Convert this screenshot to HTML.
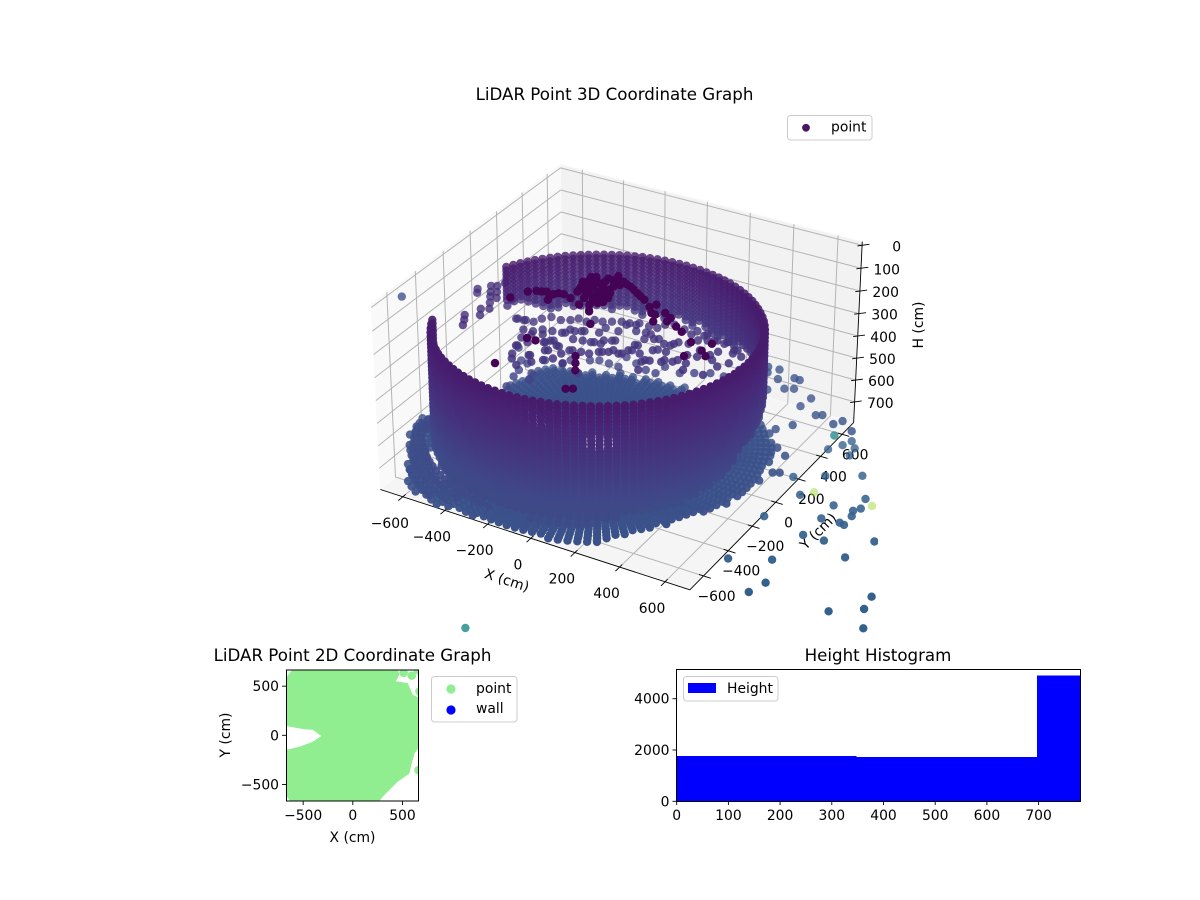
<!DOCTYPE html>
<html lang="en">
<head>
<meta charset="utf-8">
<title>LiDAR Point Graphs</title>
<style>
html,body{margin:0;padding:0;background:#fff}
svg{display:block}
text{font-family:"DejaVu Sans","Liberation Sans",sans-serif;fill:#000}
</style>
</head>
<body>
<svg id="figure" width="1200" height="900" viewBox="0 0 1200 900" xmlns="http://www.w3.org/2000/svg">
<defs>
<clipPath id="clip3d"><rect x="352" y="110" width="526" height="525"/></clipPath>
<clipPath id="clipPlan"><rect x="286" y="670" width="132" height="131"/></clipPath>
<clipPath id="clipHist"><rect x="676.7" y="669.3" width="404" height="132"/></clipPath>
</defs>
<rect x="0" y="0" width="1200" height="900" fill="#fff"/>
<text x="614.5" y="100" font-size="16.67" text-anchor="middle">LiDAR Point 3D Coordinate Graph</text>
<g id="panes"></g>
<g id="axes3d"></g>
<text x="507" y="585" font-size="13.9" text-anchor="middle" transform="rotate(18 507 580)">X (cm)</text>
<text x="818" y="536" font-size="13.9" text-anchor="middle" transform="rotate(-45 818 531)">Y (cm)</text>
<text x="0" y="0" font-size="13.9" text-anchor="middle" transform="translate(923 325) rotate(-90)">H (cm)</text>
<g id="points3d" clip-path="url(#clip3d)"></g>
<g>
<rect x="787.5" y="115.5" width="84.5" height="24.5" rx="3" fill="#fff" fill-opacity="0.8" stroke="#ccc"/>
<circle cx="806" cy="127.8" r="3.9" fill="#481668"/>
<text x="831" y="131.5" font-size="13.9">point</text>
</g>

<text x="352.5" y="661" font-size="16.67" text-anchor="middle">LiDAR Point 2D Coordinate Graph</text>
<g id="plan" clip-path="url(#clipPlan)"></g>
<rect x="286.5" y="670" width="132" height="131" fill="none" stroke="#000" stroke-width="1"/>
<g id="planTicks"></g>
<text x="352.5" y="842" font-size="13.9" text-anchor="middle">X (cm)</text>
<text x="230" y="735" font-size="13.9" text-anchor="middle" transform="rotate(-90 230 735)">Y (cm)</text>
<g>
<rect x="431.5" y="676.5" width="85.5" height="45.5" rx="3" fill="#fff" stroke="#ccc"/>
<circle cx="451" cy="689" r="4.6" fill="#90ee90"/>
<circle cx="451" cy="710" r="4.6" fill="#0000ff"/>
<text x="476" y="693" font-size="13.9">point</text>
<text x="476" y="713" font-size="13.9">wall</text>
</g>

<text x="878" y="661" font-size="16.67" text-anchor="middle">Height Histogram</text>
<g id="hist" clip-path="url(#clipHist)" shape-rendering="crispEdges"></g>
<rect x="676.5" y="669.5" width="404" height="132" fill="none" stroke="#000" stroke-width="1"/>
<g id="histTicks"></g>
<g>
<rect x="683.5" y="676.5" width="94.5" height="24.5" rx="3" fill="#fff" fill-opacity="0.8" stroke="#ccc"/>
<rect x="688" y="683" width="28" height="10" fill="#0000ff"/>
<text x="727" y="693" font-size="13.9">Height</text>
</g>
</svg>
<script>
// ---------- 3D data (polar LiDAR columns about the sensor) ----------
const sensorX = -90;
const sensorY = -34;
const wallAzimuths = [205,208,211,214,217,220,223,226,229,232,235,238,241,244,247,250,253,256,259,262,265,268,271,274,277,280,283,286,289,292,295,298,301,304,307,310,313,316,319,322,325,328,331,334,337,340,343,346,349,352,355,358,361,364,367,370,373,376,379,382,385,388,391,394,397,400,403,406,409,412,415,418,421,424,427,430,433,436,439,442,445,448,451,454,457,460,463,466,469,472,475,478,481,484,487,490,493,496,499,502,505,508,511,514,517];
const wallRanges = [666,666,666,666,665,664,663,662,661,659,657,655,653,651,648,646,643,641,639,636,634,632,630,628,626,624,623,622,620,619,618,618,618,618,619,620,622,623,624,626,628,630,632,634,636,639,641,643,646,648,651,653,655,657,659,661,662,663,664,665,666,666,666,666,665,664,663,662,661,659,657,655,653,651,648,646,643,641,639,636,634,632,630,628,626,624,623,622,620,619,618,618,618,618,619,620,622,623,624,626,628,630,632,634,636];
const wallBottoms = [712,712,712,712,712,712,712,712,712,712,712,712,712,712,712,712,712,712,712,712,712,712,712,712,712,712,712,712,712,712,712,712,712,710,708,705,702,700,697,695,693,692,690,685,678,670,660,650,640,625,610,590,570,565,560,555,550,545,535,525,510,490,480,475,470,465,460,460,460,460,460,460,505,495,485,505,495,485,475,495,485,475,485,505,485,475,495,485,475,465,485,475,465,485,475,465,455,475,465,455,435,425,405,395,385];
const wallLevels = [229,245,262,278,295,311,328,344,361,377,393,410,426,443,459,476,492,508,525,541,558,574,591,607,623,640,656,673,689,706];
const floorAzimuths = [0,3,6,9,12,15,18,21,24,27,30,33,36,39,42,45,48,51,54,57,60,63,66,69,72,75,78,81,84,87,90,93,96,99,102,105,108,111,114,117,120,123,126,129,132,135,138,141,144,147,150,153,156,159,162,165,168,171,174,177,180,183,186,189,192,195,198,201,204,207,210,213,216,219,222,225,228,231,234,237,240,243,246,249,252,255,258,261,264,267,270,273,276,279,282,285,288,291,294,297,300,303,306,309,312,315,318,321,324,327,330,333,336,339,342,345,348,351,354,357];
const floorReach = [700,690,710,700,690,700,715,705,720,730,715,700,720,705,690,680,680,670,660,650,630,610,600,590,570,560,550,580,530,560,530,570,530,560,520,560,530,580,530,560,540,580,570,590,600,620,640,650,640,620,600,600,600,600,580,400,300,270,240,230,230,240,260,300,640,780,780,770,770,760,770,760,770,780,790,790,800,830,830,830,810,800,790,770,750,740,730,720,720,710,710,710,715,720,725,735,735,735,735,735,730,710,700,690,680,670,680,660,670,650,660,650,660,670,680,670,690,680,700,690];
const floorRings = [90,112,134,156,178,200,222,244,266,288,310,332,354,376,398,420,442,464,486,508,530,552,574,596,618,640,662,684,706,730,756,784,812,842];
const floorHeight = 748;
const floorHoleFromAz = [216];
const floorHoleToAz = [236];
const floorHoleInner = [660];
const floorHoleOuter = [700];
const bankFromAz = 205;
const bankToAz = 312;
const bankRanges = [672,696,720,744,768,792];
const bankHeights = [650,665,680,695,710,725];
const nearFloorX = [168,212,186,265,232,296,354,380,357,298,392,491,281,481,569,664,593,755,687,522,476,605,553,645,620];
const nearFloorY = [901,889,828,892,845,817,859,856,759,716,779,743,650,664,631,603,645,590,644,512,448,281,251,156,142];
const nearFloorHeight = 763;
const farX = [646,800,852,825,1150,1261,1314,1250,1042,826,916,628,835,835,913,935,934,921,941,926,1093,706,838,681,595,623,723,716,680,661];
const farY = [-280,-201,-356,-445,-407,-325,-442,-236,-43,18,23,62,274,162,171,165,238,277,307,382,117,458,535,277,385,651,653,714,759,711];
const farHeight = 917;
const outlierX = [-1442,223,-419,-439,-120];
const outlierY = [547,1565,-562,2766,2798];
const outlierH = [712,1431,1431,2562,2562];
const blobX = [-219,-201,-167,-132,-265,-299,-120,-111,-55,-46,-22,19,63,-65,-16,0,-25,5,34,-61,-2,19,24,-162,-98,-93,113,163,209,223,258,278,285,324,374,412,580,548,556,510,481,79,-77,-74,-36,-95,-104,-79,-44,-22,-93,-30,5,21,-28,-57,9,1,-5,33,20,-4,42,87,137,-97,-105,-47,-154,-239,-174,239,323,-37,157,184,211,272,249];
const blobY = [-248,-238,-243,-223,-275,-350,-98,-47,-76,-25,13,-17,-39,-113,-131,-106,-183,-180,-164,-172,-246,-219,-293,-293,-162,-237,-72,-105,-146,-116,-189,-239,-157,-212,-230,-255,-374,-345,-279,-414,-307,-376,-814,-591,-591,-114,-73,-74,-54,-27,-37,-93,-73,-47,-138,-154,-147,-199,-217,-202,-125,-31,-30,-55,-89,-178,-136,-210,-226,-253,-259,-184,-182,-266,-618,-664,-710,-830,-844];
const blobHeight = 13;
const sparseX = [-636,-601,-511,-470,-432,-415,-408,-392,-345,-264,-275,-222,-195,-212,-210,-175,-107,-51,4,39,-96,-517,-495,-430,-393,-372,-321,-306,-258,-222,-195,-160,-118,-97,-43,-10,66,106,2,18,175,173,63,115,170,219,279,239,310,329,-630,-595,-559,-543,-516,-468,-433,-410,-368,-346,-310,-276,-241,-205,-170,-122,-86,-71,-37,18,71,120,-561,-519,-492,-450,-397,-369,-334,-272,-149,-83,-34,-533,-490,-426,-404,-341,-300,-252,-225,-184,-83,-86,33,49,91,111,146,181,223,291,-512,-382,-360,-295,-183,-150,-107,-84,5,43,131,157,212,228,287,-475,-431,-425,-392,-358,-330,-275,-4,21,71,117,159,282,264];
const sparseY = [220,225,138,161,107,132,213,253,265,204,290,213,259,341,405,425,387,357,343,363,276,27,-38,-15,52,110,62,102,115,119,151,171,179,223,223,273,208,232,187,104,194,317,469,485,470,467,440,324,335,407,224,230,234,274,306,303,323,351,345,374,378,398,418,423,443,440,446,486,506,491,506,503,156,164,196,205,220,251,271,339,379,386,367,95,73,110,139,190,199,211,243,266,278,337,345,384,394,437,457,477,485,447,30,59,108,109,158,193,186,231,288,289,309,370,356,396,414,-73,-109,-12,-56,-20,11,-3,169,192,227,254,248,288,200];
const sparseHeight = 455;
const sparseLowX = [-641,-575,-541,-539,-482,-489,-412,-396,-314,-326,-292,-244,-196,-207,-145,-84,-36,-28,51,103,161,222,252,300,-532,-461,-515];
const sparseLowY = [242,156,83,147,87,207,220,260,184,300,320,317,313,400,374,347,344,410,395,425,458,462,541,538,27,38,-56];
const sparseLowHeight = 600;
const stubX = [-861,-844,-826,-799,-779,-752,-725,-803,-776,-749,-756,-730,-785,-765,-745,-789,-674,-687];
const stubY = [276,246,327,281,246,200,154,340,294,248,136,89,57,22,-19,379,214,268];
const stubHeight = 403;

// ---------- axis ticks ----------
const xyTicks = [-600,-400,-200,0,200,400,600];
const xyTickLabels = ["\u2212600","\u2212400","\u2212200","0","200","400","600"];
const hTicks = [0,100,200,300,400,500,600,700];
const hTickLabels = ["0","100","200","300","400","500","600","700"];

// ---------- 2D plan data ----------
const planX = [-720,-676,-607,-560,440,450,470,433,553,604,672,760,760,672,621,590,570,450,314,263,220,-560,-625,-676,-760,-760,-676,-539,-403,-317,-403,-488,-676,-760];
const planY = [560,584,669,760,760,672,620,549,532,413,379,300,-100,-116,-184,-300,-389,-474,-611,-672,-760,-760,-672,-611,-560,-160,-150,-116,-65,-7,55,61,95,110];
const planExtraX = [594,512,672,662,672,655];
const planExtraY = [607,635,447,-355,157,662];
const planTicks = [-500,0,500];
const planTickLabels = ["\u2212500","0","500"];

// ---------- histogram data ----------
const histEdges = [0,348,697,1045];
const histCounts = [1762,1723,4914];
const histXTicks = [0,100,200,300,400,500,600,700];
const histXLabels = ["0","100","200","300","400","500","600","700"];
const histYTicks = [0,2000,4000];
const histYLabels = ["0","2000","4000"];

// ---------- helpers ----------
const NS = "http://www.w3.org/2000/svg";
function mk(tag, attrs, parent){
  const el = document.createElementNS(NS, tag);
  for (const k in attrs) el.setAttribute(k, attrs[k]);
  parent.appendChild(el);
  return el;
}
const XY_HALF = 708, H_MID = 390, H_HALF = 406, BOX_XY = 0.6215, BOX_H = 0.373;
function project(x, y, h){
  const qx = x / XY_HALF * BOX_XY;
  const qy = y / XY_HALF * BOX_XY;
  const qz = (H_MID - h) / H_HALF * BOX_H;
  const ue = 0.866025 * qx + 0.5 * qy;
  const ve = -0.25 * qx + 0.433013 * qy + 0.866025 * qz;
  const we = 0.433013 * qx - 0.75 * qy + 0.5 * qz;
  const d = 10 - we;
  return {sx: 352 + (ue / d + 0.095) / 0.185 * 525, sy: 635 - (ve / d + 0.095) / 0.185 * 525, d: d};
}
const VIRIDIS = [[68,1,84],[72,36,117],[65,68,135],[53,95,141],[42,120,142],[33,145,140],[34,168,132],[68,191,112],[122,209,81],[189,223,38],[253,231,37]];
function viridis(t){
  t = Math.max(0, Math.min(1, t)) * 10;
  const i = Math.min(9, Math.floor(t));
  const f = t - i;
  const a = VIRIDIS[i], b = VIRIDIS[i + 1];
  return "rgb(" + [0,1,2].map(function(k){ return Math.round(a[k] + (b[k] - a[k]) * f); }).join(",") + ")";
}
function heightColor(h){ return viridis(h / 3000); }
function pathOf(pts){
  return pts.map(function(p, i){ const s = project(p[0], p[1], p[2]); return (i ? "L" : "M") + s.sx.toFixed(1) + " " + s.sy.toFixed(1); }).join("") + "Z";
}

// ---------- panes ----------
const paneGroup = document.getElementById("panes");
const H_BOTTOM = H_MID + H_HALF, H_TOP = H_MID - H_HALF;
const floorPane = mk("path", {d: pathOf([[-XY_HALF,-XY_HALF,H_BOTTOM],[XY_HALF,-XY_HALF,H_BOTTOM],[XY_HALF,XY_HALF,H_BOTTOM],[-XY_HALF,XY_HALF,H_BOTTOM]]), fill: "#f5f5f5", stroke: "#fafafa"}, paneGroup);


const leftPane = mk("path", {d: pathOf([[-XY_HALF,-XY_HALF,H_BOTTOM],[-XY_HALF,XY_HALF,H_BOTTOM],[-XY_HALF,XY_HALF,H_TOP],[-XY_HALF,-XY_HALF,H_TOP]]), fill: "#f9f9f9", stroke: "#fafafa"}, paneGroup);


const backPane = mk("path", {d: pathOf([[-XY_HALF,XY_HALF,H_BOTTOM],[XY_HALF,XY_HALF,H_BOTTOM],[XY_HALF,XY_HALF,H_TOP],[-XY_HALF,XY_HALF,H_TOP]]), fill: "#f2f2f2", stroke: "#fafafa"}, paneGroup);



// ---------- grid, axes, ticks ----------
const axisGroup = document.getElementById("axes3d");
function line3(a, b, stroke, width, parent){
  const p = project(a[0], a[1], a[2]);
  const q = project(b[0], b[1], b[2]);
  return mk("line", {x1: p.sx, y1: p.sy, x2: q.sx, y2: q.sy, stroke: stroke, "stroke-width": width}, parent);
}
const GRID = "#b4b4b4";
xyTicks.forEach(function(t){
  const g1 = line3([t,-XY_HALF,H_BOTTOM],[t,XY_HALF,H_BOTTOM],GRID,1,axisGroup);
  
  
  const g2 = line3([t,XY_HALF,H_BOTTOM],[t,XY_HALF,H_TOP],GRID,1,axisGroup);
  
  
  const g3 = line3([-XY_HALF,t,H_BOTTOM],[XY_HALF,t,H_BOTTOM],GRID,1,axisGroup);
  
  
  const g4 = line3([-XY_HALF,t,H_BOTTOM],[-XY_HALF,t,H_TOP],GRID,1,axisGroup);
  
  
});
hTicks.forEach(function(t){
  const g1 = line3([-XY_HALF,-XY_HALF,t],[-XY_HALF,XY_HALF,t],GRID,1,axisGroup);
  
  
  const g2 = line3([-XY_HALF,XY_HALF,t],[XY_HALF,XY_HALF,t],GRID,1,axisGroup);
  
  
});
const xAxisLine = line3([-XY_HALF,-XY_HALF,H_BOTTOM],[XY_HALF,-XY_HALF,H_BOTTOM],"#000",0.9,axisGroup);


const yAxisLine = line3([XY_HALF,-XY_HALF,H_BOTTOM],[XY_HALF,XY_HALF,H_BOTTOM],"#000",0.9,axisGroup);


const hAxisLine = line3([XY_HALF,XY_HALF,H_BOTTOM],[XY_HALF,XY_HALF,H_TOP],"#000",0.9,axisGroup);


function label(x, y, str, anchor, parent, baselineShift){
  const t = mk("text", {x: x, y: y + (baselineShift || 0), "font-size": 13.9, "text-anchor": anchor}, parent);
  t.textContent = str;
  return t;
}
xyTicks.forEach(function(t, i){
  const m = line3([t,-XY_HALF+20,H_BOTTOM],[t,-XY_HALF-32,H_BOTTOM],"#000",0.9,axisGroup);
  
  
  const p = project(t,-XY_HALF,H_BOTTOM);
  const l = label(p.sx - 13, p.sy + 26, xyTickLabels[i], "middle", axisGroup, 5);
  
  
  const m2 = line3([XY_HALF-20,t,H_BOTTOM],[XY_HALF+32,t,H_BOTTOM],"#000",0.9,axisGroup);
  
  
  const q = project(XY_HALF,t,H_BOTTOM);
  const l2 = label(q.sx + 13, q.sy + 20, xyTickLabels[i], "middle", axisGroup, 5);
  
  
});
hTicks.forEach(function(t, i){
  const m = line3([XY_HALF-14,XY_HALF-14,t],[XY_HALF+22,XY_HALF+22,t],"#000",0.9,axisGroup);
  
  
  const p = project(XY_HALF,XY_HALF,t);
  const l = label(p.sx + 39, p.sy + 1, hTickLabels[i], "end", axisGroup, 5);
  
  
});

// ---------- 3D point cloud ----------
const cloud = [];
function addPoint(x, y, h){
  const p = project(x, y, h);
  cloud.push({sx: p.sx, sy: p.sy, d: p.d, h: h});
}
function inFloorHole(az, r){
  return floorHoleFromAz.some(function(from, k){
    return az >= from && az <= floorHoleToAz[k] && r >= floorHoleInner[k] && r <= floorHoleOuter[k];
  });
}
wallAzimuths.forEach(function(az, i){
  const rad = az * Math.PI / 180;
  wallLevels.forEach(function(h){
    if (h <= wallBottoms[i]) addPoint(sensorX + wallRanges[i] * Math.cos(rad), sensorY + wallRanges[i] * Math.sin(rad), h);
  });
});
floorAzimuths.forEach(function(az, i){
  const rad = az * Math.PI / 180;
  floorRings.forEach(function(r){
    if (r <= floorReach[i] && !inFloorHole(az, r)) addPoint(sensorX + r * Math.cos(rad), sensorY + r * Math.sin(rad), floorHeight);
  });
  if (az >= bankFromAz && az <= bankToAz) {
    bankRanges.forEach(function(r, k){
      if (r <= floorReach[i] && !inFloorHole(az, r)) addPoint(sensorX + r * Math.cos(rad), sensorY + r * Math.sin(rad), bankHeights[k]);
    });
  }
});
nearFloorX.forEach(function(x, i){ addPoint(x, nearFloorY[i], nearFloorHeight); });
farX.forEach(function(x, i){ addPoint(x, farY[i], farHeight); });
outlierX.forEach(function(x, i){ addPoint(x, outlierY[i], outlierH[i]); });
sparseX.forEach(function(x, i){ addPoint(x, sparseY[i], sparseHeight); });
sparseLowX.forEach(function(x, i){ addPoint(x, sparseLowY[i], sparseLowHeight); });
stubX.forEach(function(x, i){ addPoint(x, stubY[i], stubHeight); });
blobX.forEach(function(x, i){ addPoint(x, blobY[i], blobHeight); });
cloud.sort(function(a, b){ return b.d - a.d; });
const pointsLayer = document.getElementById("points3d");
const frag = document.createDocumentFragment();
cloud.forEach(function(p){
  const c = document.createElementNS(NS, "circle");
  c.setAttribute("cx", p.sx.toFixed(1));
  c.setAttribute("cy", p.sy.toFixed(1));
  c.setAttribute("r", "4.2");
  c.setAttribute("fill", heightColor(p.h));
  c.setAttribute("fill-opacity", p.d > 11.5 ? "0.5" : Math.max(0.78, Math.min(1, 0.85 + (10.2 - p.d) * 0.3)).toFixed(2));
  
  
  frag.appendChild(c);
});
pointsLayer.appendChild(frag);

// ---------- 2D plan ----------
const planSX = function(x){ return 352.8 + x * 0.0993; };
const planSY = function(y){ return 735.3 - y * 0.0983; };
const planLayer = document.getElementById("plan");
const planPoly = mk("polygon", {points: planX.map(function(x, i){ return planSX(x).toFixed(1) + "," + planSY(planY[i]).toFixed(1); }).join(" "), fill: "#90ee90"}, planLayer);


planExtraX.forEach(function(x, i){
  const c = mk("circle", {cx: planSX(x), cy: planSY(planExtraY[i]), r: 4.3, fill: "#90ee90"}, planLayer);
  
  
});
const planTickGroup = document.getElementById("planTicks");
planTicks.forEach(function(t, i){
  const sx = planSX(t), sy = planSY(t);
  const a = mk("line", {x1: sx, y1: 801, x2: sx, y2: 805, stroke: "#000", "stroke-width": 0.9}, planTickGroup);
  
  
  const b = mk("line", {x1: 282, y1: sy, x2: 286, y2: sy, stroke: "#000", "stroke-width": 0.9}, planTickGroup);
  
  
  const lx = label(sx, 820, planTickLabels[i], "middle", planTickGroup);
  
  
  const ly = label(279, sy + 5, planTickLabels[i], "end", planTickGroup);
  
  
});

// ---------- histogram ----------
const histSX = function(v){ return 676.7 + v * 0.517; };
const histSY = function(c){ return 801.3 - c * 0.02565; };
const histLayer = document.getElementById("hist");
histCounts.forEach(function(c, i){
  const r = mk("rect", {x: histSX(histEdges[i]), y: histSY(c), width: histSX(histEdges[i + 1]) - histSX(histEdges[i]), height: histSY(0) - histSY(c), fill: "#0000ff"}, histLayer);
  
  
});
const histTickGroup = document.getElementById("histTicks");
histXTicks.forEach(function(t, i){
  const sx = histSX(t);
  const a = mk("line", {x1: sx, y1: 801.5, x2: sx, y2: 805, stroke: "#000", "stroke-width": 0.9}, histTickGroup);
  
  
  const l = label(sx, 820, histXLabels[i], "middle", histTickGroup);
  
  
});
histYTicks.forEach(function(t, i){
  const sy = histSY(t);
  const a = mk("line", {x1: 672.5, y1: sy, x2: 676.5, y2: sy, stroke: "#000", "stroke-width": 0.9}, histTickGroup);
  
  
  const l = label(669.5, sy + 5, histYLabels[i], "end", histTickGroup);
  
  
});
</script>
</body>
</html>
